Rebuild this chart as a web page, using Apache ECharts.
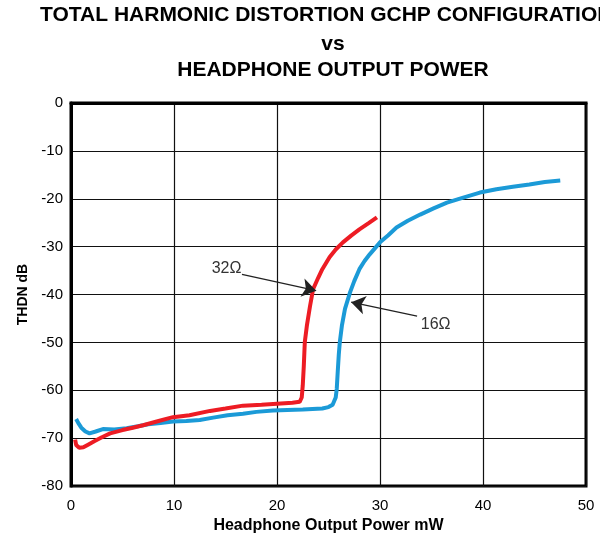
<!DOCTYPE html>
<html>
<head>
<meta charset="utf-8">
<script src="https://cdn.jsdelivr.net/npm/echarts@6/dist/echarts.min.js"></script>
<style>html,body{margin:0;padding:0;background:#fff}#c{width:600px;height:539px}</style>
</head>
<body>
<div id="c"></div>
<script>
// Data (x: mW, y: dB)
const titleLines = ['TOTAL HARMONIC DISTORTION GCHP CONFIGURATION', 'vs', 'HEADPHONE OUTPUT POWER'];
const xName = 'Headphone Output Power mW';
const yName = 'THDN dB';
const load16Name = '16\u03A9';
const load32Name = '32\u03A9';

const thdn16 = [
  [0.5,-66.0],[0.7,-66.8],[1.0,-67.8],[1.4,-68.6],[1.8,-69.0],[2.4,-68.6],[3.1,-68.1],[4.2,-68.2],
  [5.4,-67.9],[6.5,-67.5],[7.5,-67.1],[8.7,-66.8],[9.9,-66.5],[11.2,-66.4],[12.5,-66.2],[13.8,-65.7],
  [15.2,-65.2],[16.7,-64.9],[18.0,-64.5],[19.6,-64.2],[21.0,-64.1],[22.5,-64.0],[24.4,-63.8],
  [25.0,-63.5],[25.4,-63.0],[25.7,-61.5],[25.8,-59.7],[25.9,-56.0],[26.0,-52.5],[26.1,-49.9],
  [26.3,-46.5],[26.6,-43.0],[27.1,-39.5],[27.5,-37.2],[28.0,-34.7],[28.5,-33.0],[29.0,-31.6],
  [30.0,-29.1],[30.8,-27.6],[31.6,-26.0],[32.7,-24.6],[33.9,-23.3],[35.2,-22.0],[36.5,-20.8],
  [38.0,-19.8],[39.7,-18.7],[41.3,-18.0],[42.9,-17.5],[44.5,-17.0],[46.0,-16.5],[47.5,-16.2]
];

const thdn32 = [
  [0.4,-70.3],[0.5,-71.4],[0.8,-72.0],[1.2,-71.9],[1.7,-71.3],[2.3,-70.6],[3.0,-69.8],[3.8,-69.0],
  [5.0,-68.3],[6.0,-67.8],[7.0,-67.3],[8.5,-66.4],[9.9,-65.6],[11.5,-65.2],[13.5,-64.3],[15.0,-63.8],
  [16.7,-63.2],[18.5,-63.0],[20.0,-62.8],[21.5,-62.6],[22.2,-62.4],[22.4,-61.5],[22.5,-59.0],
  [22.6,-55.0],[22.7,-49.9],[22.9,-46.5],[23.2,-42.5],[23.5,-38.9],[24.0,-36.5],[24.4,-34.7],
  [25.1,-32.2],[25.7,-30.6],[26.4,-29.1],[27.2,-27.7],[28.0,-26.4],[28.9,-25.1],[29.7,-23.9]
];

// annotation arrows: [start, tip] in data units, label positions
const arrow32 = [[16.6,-35.8],[23.8,-39.2]];
const arrow16 = [[33.6,-44.5],[27.2,-41.6]];
const label32Pos = [15.1,-34.5];
const label16Pos = [35.4,-46.2];

const FONT = "'Liberation Sans', Arial, Helvetica, sans-serif";
const chart = echarts.init(document.getElementById('c'), null, {renderer:'canvas'});

chart.setOption({
  animation: false,
  backgroundColor: '#fff',
  textStyle: {fontFamily: FONT},
  graphic: [
    {type:'text', left:40, top:5, style:{text:titleLines[0], font:'bold 21px ' + FONT, fill:'#000'}},
    {type:'text', x:333, y:44, style:{text:titleLines[1], font:'bold 21px ' + FONT, fill:'#000', align:'center', verticalAlign:'middle'}},
    {type:'text', x:333, y:70, style:{text:titleLines[2], font:'bold 21px ' + FONT, fill:'#000', align:'center', verticalAlign:'middle'}}
  ],
  grid: {left:71, right:14, top:103, bottom:51, show:true, borderColor:'#000', borderWidth:3, backgroundColor:'transparent'},
  xAxis: {
    type:'value', min:0, max:50, interval:10,
    axisLine:{show:true, lineStyle:{color:'#000', width:3}},
    axisTick:{show:false},
    splitLine:{show:true, lineStyle:{color:'#111', width:1.2}},
    axisLabel:{fontSize:15, color:'#000', margin:12, fontFamily:FONT},
    name:xName, nameLocation:'middle', nameGap:24,
    nameTextStyle:{fontSize:16, fontWeight:'bold', color:'#000', fontFamily:FONT}
  },
  yAxis: {
    type:'value', min:-80, max:0, interval:10,
    axisLine:{show:true, lineStyle:{color:'#000', width:3}},
    axisTick:{show:false},
    splitLine:{show:true, lineStyle:{color:'#111', width:1.2}},
    axisLabel:{fontSize:15, color:'#000', margin:8, fontFamily:FONT},
    name:yName, nameLocation:'middle', nameGap:39, nameRotate:90,
    nameTextStyle:{fontSize:14, fontWeight:'bold', color:'#000', fontFamily:FONT}
  },
  series: [
    {
      name: load16Name, type:'line', data: thdn16, showSymbol:false, smooth:false,
      lineStyle:{color:'#1b9ad7', width:4}, itemStyle:{color:'#1b9ad7'}
    },
    {
      name: load32Name, type:'line', data: thdn32, showSymbol:false, smooth:false,
      lineStyle:{color:'#ed1c24', width:4}, itemStyle:{color:'#ed1c24'},
      markLine: {
        silent:true, symbol:['none','arrow'], symbolSize:14, animation:false,
        label:{show:false},
        itemStyle:{color:'#222'},
        lineStyle:{color:'#222', width:1.3, type:'solid'},
        data:[
          [{coord:arrow32[0]},{coord:arrow32[1]}],
          [{coord:arrow16[0]},{coord:arrow16[1]}]
        ]
      },
      markPoint: {
        silent:true, symbol:'circle', symbolSize:1, animation:false,
        itemStyle:{color:'rgba(0,0,0,0)'},
        label:{show:true, position:'inside', fontSize:16, color:'#333', fontFamily:FONT},
        data:[
          {coord:label32Pos, value:load32Name, label:{formatter:load32Name}},
          {coord:label16Pos, value:load16Name, label:{formatter:load16Name}}
        ]
      }
    }
  ]
});
</script>
</body>
</html>
